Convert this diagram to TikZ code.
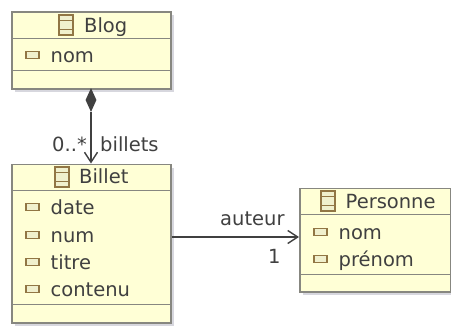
\documentclass[tikz,border=0pt]{standalone}
\usepackage{fontspec}
\setmainfont{DejaVu Sans}
\usetikzlibrary{arrows.meta,shapes.geometric}
\definecolor{boxfill}{RGB}{255,255,214}
\definecolor{boxline}{RGB}{135,135,128}
\definecolor{shadowc}{RGB}{215,215,222}
\definecolor{inkc}{RGB}{64,64,64}
\definecolor{icoline}{RGB}{145,118,68}
\definecolor{icofill}{RGB}{240,240,205}
\tikzset{
 x=1pt,y=-1pt,
 classbox/.style={draw=boxline,line width=1.6pt,fill=boxfill,inner sep=0pt,anchor=north west},
 divider/.style={draw=boxline,line width=1.6pt},
 uml/.style={font=\fontsize{19.5}{21}\selectfont,text=inkc,inner sep=0pt},
 rowtext/.style={uml,anchor=base west},
 headtext/.style={uml,anchor=base west},
 conn/.style={draw=inkc,line width=1.6pt},
 vee/.style={-{Straight Barb[length=10pt,width=13pt,line width=1.4pt]}},
 attricon/.style={draw=icoline,line width=1.8pt,fill=icofill,minimum width=13.5pt,minimum height=7pt,inner sep=0pt},
 clsicon/.style={draw=icoline,line width=1.5pt,fill=icofill,minimum width=14pt,minimum height=20pt,inner sep=0pt},
 compdiamond/.style={diamond,fill=inkc,draw=none,inner sep=0pt,minimum width=11pt,minimum height=24pt}
}
\newcommand{\shadowbox}[4]{\fill[shadowc] (#1+4,#2+4) rectangle (#3+4,#4+4);}
\newcommand{\clsbands}[1]{%
 \draw[icoline,line width=1pt] ([yshift=-6.7pt]#1.north west) -- ([yshift=-6.7pt]#1.north east);
 \draw[icoline,line width=1pt] ([yshift=6.7pt]#1.south west) -- ([yshift=6.7pt]#1.south east);}
\begin{document}
\begin{tikzpicture}
\useasboundingbox (0,0) rectangle (451,325);
% shadows
\shadowbox{11}{11}{170}{88}
\shadowbox{11}{163.5}{170}{322}
\shadowbox{299}{187.5}{450}{291}
% boxes
\node[classbox,minimum width=159pt,minimum height=77pt] (blog) at (11,11) {};
\node[classbox,minimum width=159pt,minimum height=158.5pt] (billet) at (11,163.5) {};
\node[classbox,minimum width=151pt,minimum height=103.5pt] (personne) at (299,187.5) {};
% dividers
\draw[divider] (blog.west |- 0,38.5) -- (blog.east |- 0,38.5);
\draw[divider] (blog.west |- 0,70.5) -- (blog.east |- 0,70.5);
\draw[divider] (billet.west |- 0,190.5) -- (billet.east |- 0,190.5);
\draw[divider] (billet.west |- 0,304.5) -- (billet.east |- 0,304.5);
\draw[divider] (personne.west |- 0,214.5) -- (personne.east |- 0,214.5);
\draw[divider] (personne.west |- 0,274.5) -- (personne.east |- 0,274.5);
% class icons
\node[clsicon] (iblog) at (66,25) {}; \clsbands{iblog}
\node[clsicon] (ibillet) at (62,177) {}; \clsbands{ibillet}
\node[clsicon] (iperso) at (328,201) {}; \clsbands{iperso}
% headers
\node[headtext] (tblog) at (84,32) {Blog};
\node[headtext] (tbillet) at (79,183) {Billet};
\node[headtext] (tperso) at (345.5,208) {Personne};
% attribute rows
\node[attricon] (a1) at (32.5,55) {};
\node[rowtext] (t1) at (50.5,62) {nom};
\node[attricon] (a2) at (32.5,207) {};
\node[rowtext] (t2) at (50.5,214.5) {date};
\node[attricon] (a3) at (32.5,235) {};
\node[rowtext] (t3) at (50.5,242) {num};
\node[attricon] (a4) at (32.5,262) {};
\node[rowtext] (t4) at (50.5,269.5) {titre};
\node[attricon] (a5) at (32.5,289) {};
\node[rowtext] (t5) at (50.5,296.5) {contenu};
\node[attricon] (a6) at (320.5,232) {};
\node[rowtext] (t6) at (338.5,239.5) {nom};
\node[attricon] (a7) at (320.5,259) {};
\node[rowtext] (t7) at (338.5,266.5) {prénom};
% connectors
\node[compdiamond] (dia) at (91,100) {};
\draw[conn,vee] (dia.south) -- (dia.south |- billet.north);
\coordinate (hstart) at (billet.east |- 0,237);
\draw[conn,vee] (hstart) -- (personne.west |- hstart);
% labels
\node[rowtext] (l1) at (52,151) {0..*};
\node[rowtext] (l2) at (100,151) {billets};
\node[rowtext] (l3) at (220,225) {auteur};
\node[rowtext] (l4) at (268,263) {1};
\end{tikzpicture}
\end{document}
